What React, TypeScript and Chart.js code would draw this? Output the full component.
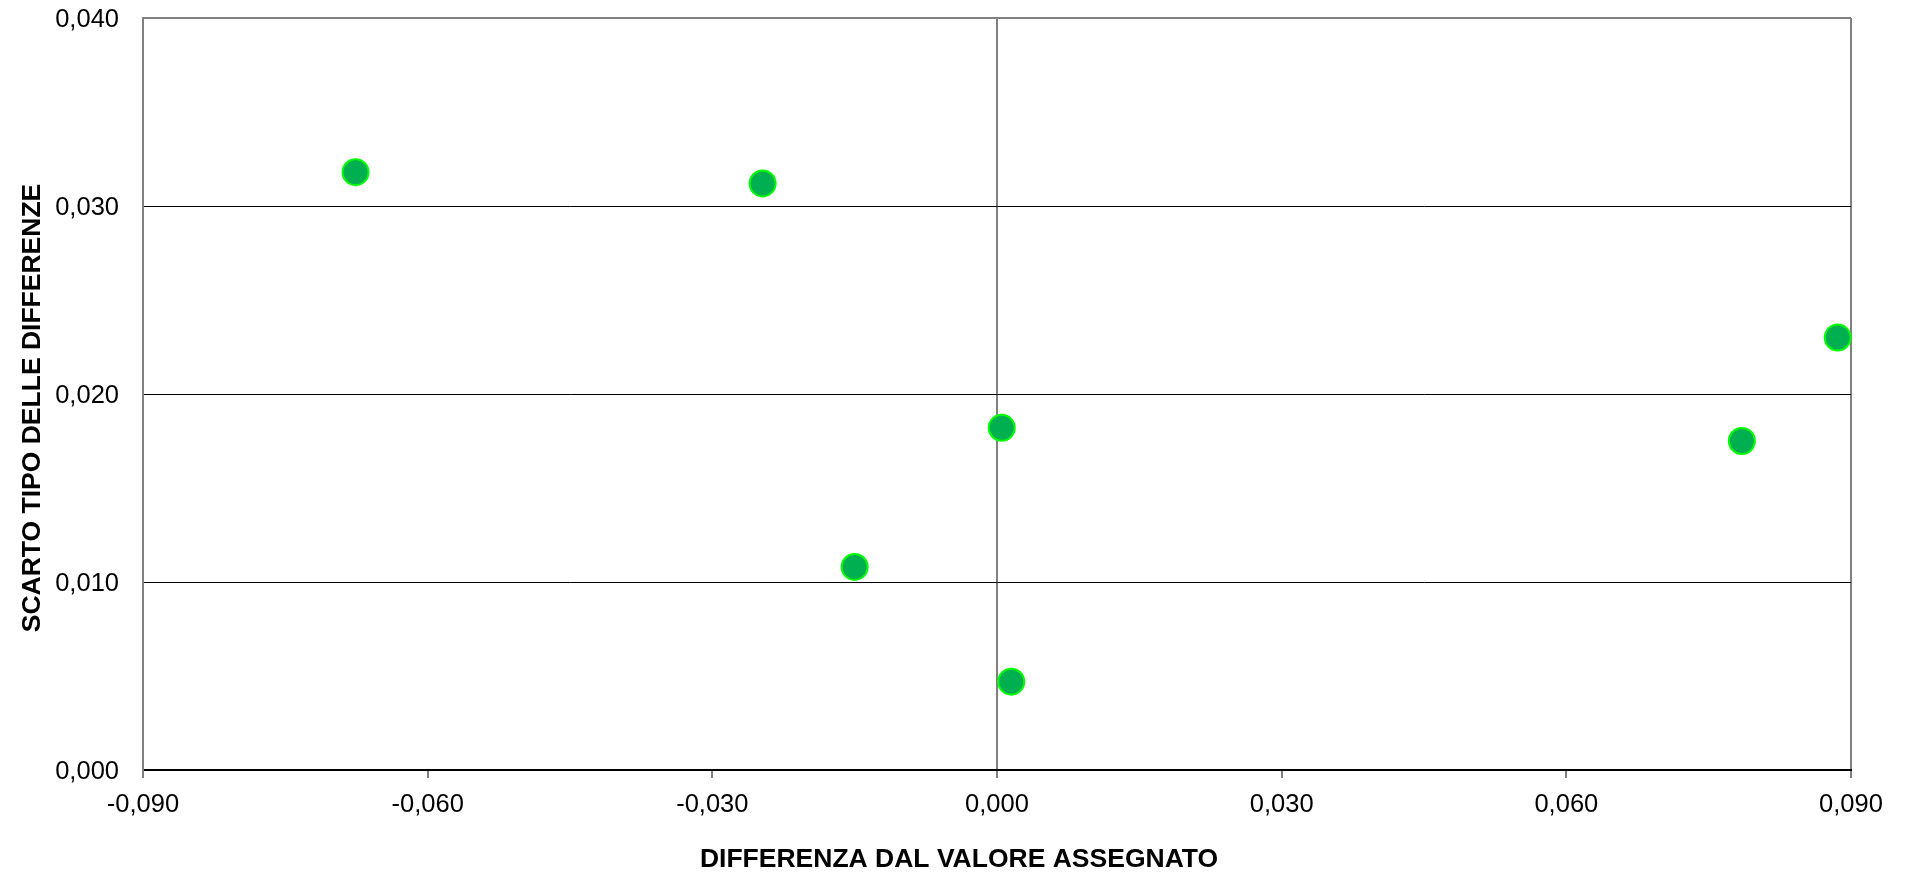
import React, { useEffect, useRef } from "react";
import { Chart, registerables } from "chart.js";

Chart.register(...registerables);

// ---- data ----
const diffValues = [-0.0676, -0.0247, 0.0005, -0.015, 0.0015, 0.0886, 0.0785];
const sdValues = [0.0318, 0.0312, 0.0182, 0.0108, 0.0047, 0.023, 0.0175];

const X_MIN = -0.09;
const X_MAX = 0.09;
const X_STEP = 0.03;
const Y_MIN = 0;
const Y_MAX = 0.04;
const Y_STEP = 0.01;

const X_TITLE = "DIFFERENZA DAL VALORE ASSEGNATO";
const Y_TITLE = "SCARTO TIPO DELLE DIFFERENZE";

const FONT = '"Liberation Sans", Arial, Helvetica, sans-serif';
const GRAY = "#808080";

const fmt = (v: number) => (Math.abs(v) < 1e-12 ? 0 : v).toFixed(3).replace(".", ",");

function drawText(
  ctx: CanvasRenderingContext2D,
  text: string,
  x: number,
  y: number,
  align: CanvasTextAlign,
  rotate = 0
) {
  ctx.save();
  ctx.translate(x, y);
  if (rotate) ctx.rotate(rotate);
  ctx.textAlign = align;
  ctx.textBaseline = "alphabetic";
  ctx.fillText(text, 0, 0);
  ctx.restore();
}

const textPlugin = {
  id: "axisText",
  afterDraw(chart: any) {
    const ctx: CanvasRenderingContext2D = chart.ctx;
    const area = chart.chartArea;
    const xs = chart.scales.x;
    const ys = chart.scales.y;
    ctx.save();
    ctx.fillStyle = "#000";
    ctx.font = `25.5px ${FONT}`;
    xs.ticks.forEach((t: any) => {
      const px = xs.getPixelForValue(t.value);
      drawText(ctx, fmt(t.value), px, area.bottom + 42, "center");
    });
    ys.ticks.forEach((t: any) => {
      const py = ys.getPixelForValue(t.value);
      drawText(ctx, fmt(t.value), area.left - 24, py + 9, "right");
    });
    ctx.font = `bold 26.5px ${FONT}`;
    drawText(ctx, X_TITLE, area.left + 816, area.bottom + 97, "center");
    drawText(ctx, Y_TITLE, area.left - 103.5, area.top + 390, "center", -Math.PI / 2);
    ctx.restore();
  },
};

export default function App() {
  const ref = useRef<HTMLCanvasElement | null>(null);

  useEffect(() => {
    if (!ref.current) return;
    const points = diffValues.map((x, i) => ({ x, y: sdValues[i] }));
    const near = (a: number, b: number) => Math.abs(a - b) < 1e-9;
    const chart = new Chart(ref.current, {
      type: "scatter",
      data: {
        datasets: [
          {
            data: points,
            backgroundColor: "#00B050",
            borderColor: "#00FF00",
            borderWidth: 2,
            pointRadius: 13,
            pointHoverRadius: 13,
            clip: false as any,
          },
        ],
      },
      options: {
        animation: false,
        responsive: false,
        maintainAspectRatio: false,
        layout: { padding: { left: 0, top: 18, right: 57, bottom: 0 } },
        plugins: {
          legend: { display: false },
          tooltip: { enabled: false },
          title: { display: false },
        },
        scales: {
          x: {
            type: "linear",
            position: "bottom",
            min: X_MIN,
            max: X_MAX,
            afterFit: (s: any) => {
              s.height = 104;
            },
            ticks: { stepSize: X_STEP, display: false },
            grid: {
              drawTicks: true,
              tickLength: 8,
              tickColor: "#000",
              tickWidth: 1,
              color: (c: any) => {
                const v = c.tick ? c.tick.value : NaN;
                if (near(v, 0) || near(v, X_MAX)) return GRAY;
                return "rgba(0,0,0,0)";
              },
              lineWidth: 2,
            },
            border: { display: true, color: "#000", width: 2 },
          },
          y: {
            type: "linear",
            position: "left",
            min: Y_MIN,
            max: Y_MAX,
            afterFit: (s: any) => {
              s.width = 143;
            },
            ticks: { stepSize: Y_STEP, display: false },
            grid: {
              drawTicks: false,
              color: (c: any) => {
                const v = c.tick ? c.tick.value : NaN;
                return near(v, Y_MAX) ? GRAY : "#000";
              },
              lineWidth: (c: any) => {
                const v = c.tick ? c.tick.value : NaN;
                return near(v, Y_MAX) ? 2 : 1;
              },
            },
            border: { display: true, color: GRAY, width: 2 },
          },
        },
      },
      plugins: [textPlugin],
    });
    return () => chart.destroy();
  }, []);

  return (
    <div style={{ position: "absolute", left: 0, top: 0, width: 1908, height: 874, background: "#fff" }}>
      <canvas ref={ref} width={1908} height={874} style={{ display: "block" }} />
    </div>
  );
}
